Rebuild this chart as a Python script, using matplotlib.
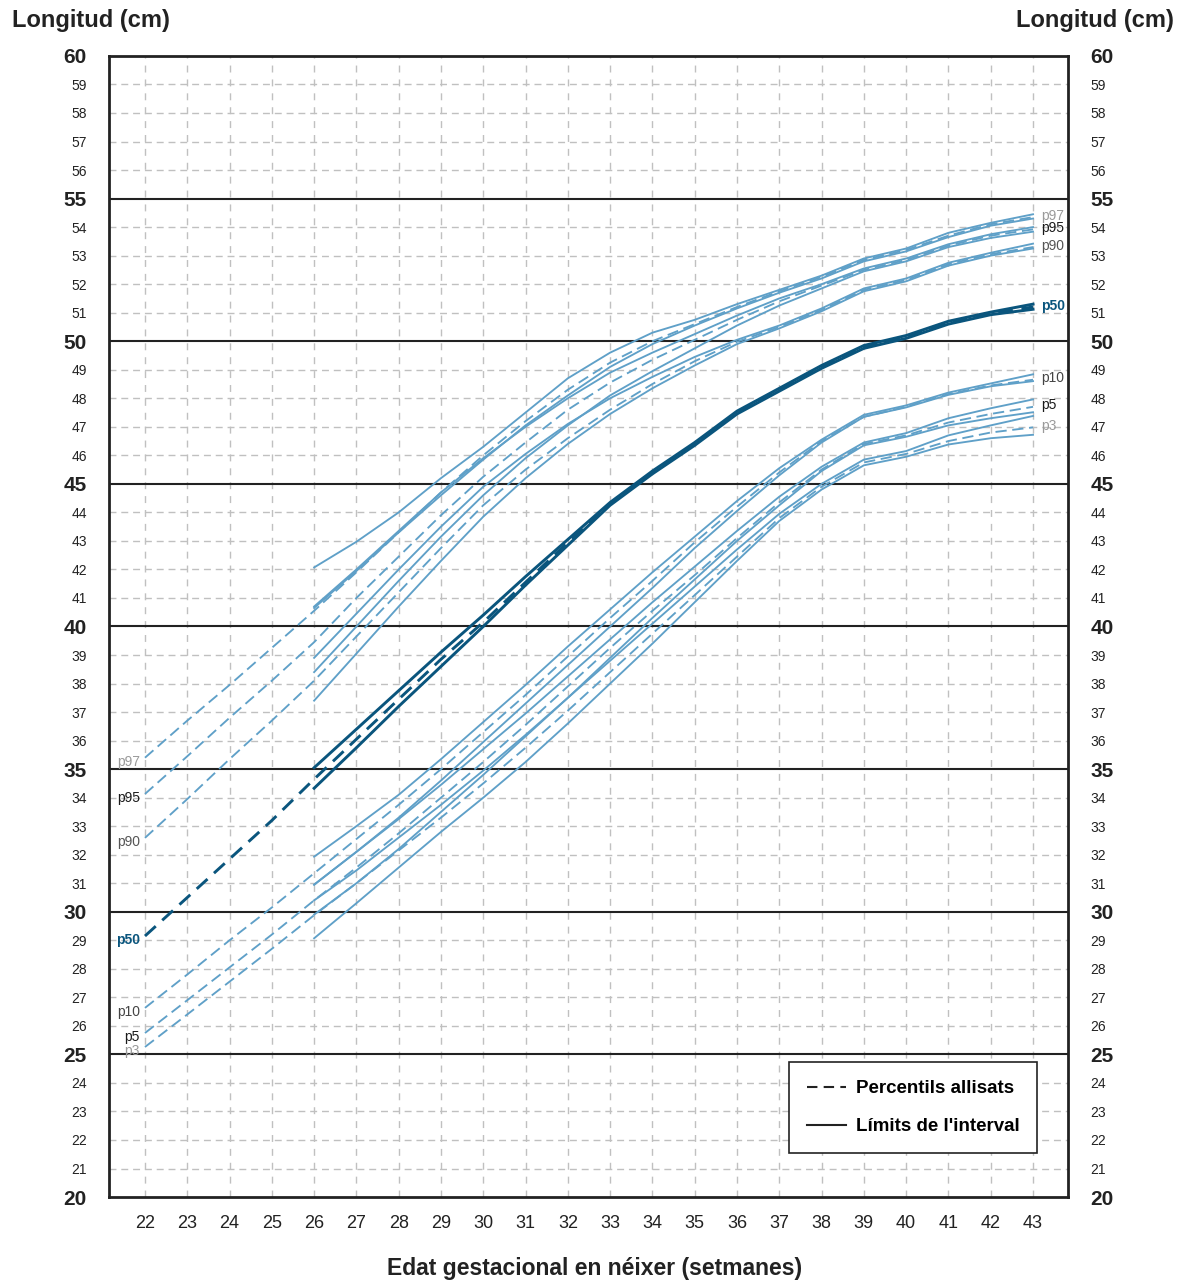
import matplotlib.pyplot as plt
from matplotlib.lines import Line2D

plt.rcParams['font.family'] = ['Liberation Sans', 'DejaVu Sans']

# gestational weeks
weeks = list(range(22, 44))      # smoothed percentiles
weeks_lim = list(range(26, 44))  # interval limits

# smoothed percentiles (dashed), cm
p97 = [35.4, 36.7, 37.95, 39.25, 40.55, 41.9, 43.3, 44.7, 46.0, 47.2, 48.3,
       49.25, 50.0, 50.6, 51.2, 51.75, 52.25, 52.85, 53.2, 53.7, 54.1, 54.35]
p95 = [34.13, 35.45, 36.8, 38.1, 39.45, 41.0, 42.45, 43.9, 45.25, 46.45, 47.6,
       48.55, 49.35, 50.05, 50.75, 51.4, 51.95, 52.5, 52.85, 53.35, 53.7, 53.92]
p90 = [32.59, 33.95, 35.35, 36.7, 38.1, 39.65, 41.2, 42.75, 44.25, 45.5, 46.6,
       47.6, 48.5, 49.3, 49.98, 50.5, 51.1, 51.8, 52.15, 52.7, 53.05, 53.3]
p50 = [29.15, 30.5, 31.85, 33.2, 34.65, 36.05, 37.45, 38.85, 40.15, 41.55, 42.95,
       44.3, 45.4, 46.4, 47.5, 48.3, 49.1, 49.8, 50.15, 50.65, 50.98, 51.2]
p10 = [26.63, 27.8, 29.0, 30.15, 31.35, 32.55, 33.75, 35.0, 36.3, 37.6, 38.95,
       40.3, 41.6, 42.95, 44.2, 45.4, 46.5, 47.35, 47.7, 48.15, 48.45, 48.65]
p5 = [25.75, 26.9, 28.05, 29.2, 30.4, 31.55, 32.75, 34.0, 35.25, 36.55, 37.9,
      39.25, 40.55, 41.8, 43.1, 44.35, 45.5, 46.4, 46.7, 47.15, 47.45, 47.7]
p3 = [25.26, 26.4, 27.55, 28.7, 29.88, 31.0, 32.15, 33.3, 34.5, 35.75, 37.05,
      38.4, 39.75, 41.1, 42.45, 43.8, 44.9, 45.75, 46.05, 46.5, 46.8, 46.98]

# interval limits (solid), cm
p97_hi = [42.07, 42.97, 44.0, 45.2, 46.3, 47.5, 48.7, 49.6, 50.3, 50.75, 51.3,
          51.8, 52.3, 52.9, 53.25, 53.8, 54.15, 54.45]
p97_lo = [40.65, 41.95, 43.3, 44.6, 45.85, 47.05, 48.1, 49.1, 49.9, 50.55, 51.15,
          51.7, 52.2, 52.8, 53.15, 53.65, 54.05, 54.3]
p95_hi = [40.7, 42.0, 43.35, 44.7, 45.9, 47.0, 48.0, 48.9, 49.6, 50.25, 50.9,
          51.5, 52.0, 52.55, 52.9, 53.4, 53.75, 54.0]
p95_lo = [38.4, 40.0, 41.6, 43.15, 44.6, 45.9, 47.05, 48.1, 48.95, 49.75, 50.55,
          51.25, 51.85, 52.45, 52.8, 53.3, 53.62, 53.84]
p90_hi = [38.9, 40.45, 42.0, 43.5, 44.9, 46.05, 47.1, 48.0, 48.75, 49.45, 50.05,
          50.55, 51.15, 51.85, 52.2, 52.75, 53.1, 53.42]
p90_lo = [37.4, 39.05, 40.7, 42.3, 43.85, 45.2, 46.4, 47.45, 48.35, 49.15, 49.9,
          50.45, 51.05, 51.75, 52.1, 52.65, 53.0, 53.25]
p50_hi = [35.05, 36.4, 37.75, 39.1, 40.4, 41.75, 43.05, 44.35, 45.45, 46.45, 47.55,
          48.35, 49.15, 49.85, 50.2, 50.7, 51.02, 51.3]
p50_lo = [34.33, 35.75, 37.2, 38.6, 40.0, 41.45, 42.85, 44.25, 45.35, 46.35, 47.45,
          48.25, 49.05, 49.75, 50.1, 50.6, 50.93, 51.12]
p10_hi = [31.93, 33.0, 34.1, 35.35, 36.65, 37.95, 39.3, 40.6, 41.9, 43.15, 44.4,
          45.55, 46.55, 47.42, 47.75, 48.2, 48.52, 48.84]
p10_lo = [30.95, 32.1, 33.3, 34.6, 35.95, 37.3, 38.65, 40.0, 41.35, 42.75, 44.05,
          45.3, 46.45, 47.35, 47.68, 48.12, 48.42, 48.6]
p5_hi = [30.95, 32.1, 33.25, 34.45, 35.7, 36.95, 38.25, 39.55, 40.85, 42.1, 43.35,
         44.55, 45.6, 46.45, 46.78, 47.3, 47.65, 47.96]
p5_lo = [29.9, 31.0, 32.2, 33.5, 34.8, 36.15, 37.5, 38.9, 40.3, 41.65, 43.0,
         44.25, 45.45, 46.35, 46.65, 47.05, 47.3, 47.51]
p3_hi = [30.4, 31.45, 32.6, 33.75, 34.95, 36.2, 37.5, 38.8, 40.1, 41.4, 42.7,
         43.95, 45.0, 45.85, 46.15, 46.7, 47.05, 47.38]
p3_lo = [29.07, 30.3, 31.55, 32.8, 34.0, 35.25, 36.6, 38.0, 39.4, 40.85, 42.3,
         43.7, 44.8, 45.65, 45.95, 46.38, 46.6, 46.72]

names = ['p97', 'p95', 'p90', 'p50', 'p10', 'p5', 'p3']
smooth = [p97, p95, p90, p50, p10, p5, p3]
upper = [p97_hi, p95_hi, p90_hi, p50_hi, p10_hi, p5_hi, p3_hi]
lower = [p97_lo, p95_lo, p90_lo, p50_lo, p10_lo, p5_lo, p3_lo]
label_colors = ['#9a9a9a', '#1a1a1a', '#555555', '#0a557d', '#444444', '#1a1a1a', '#9a9a9a']

light = '#5fa0c8'
dark = '#0a557d'

fig = plt.figure(figsize=(11.82, 12.83), dpi=100)
ax = fig.add_axes([0.0922, 0.0670, 0.8114, 0.8894])
ax.set_xlim(21.149, 43.828)
ax.set_ylim(20, 60)

# grid
for v in range(21, 60):
    if v % 5 == 0:
        ax.axhline(v, color='#222222', lw=1.5, zorder=1)
    else:
        ax.axhline(v, color='#c0c0c0', lw=1.0, dashes=(5, 3.5), zorder=0)
for w in weeks:
    ax.axvline(w, color='#c0c0c0', lw=1.0, dashes=(5, 5), zorder=0)

# curves
for name, s, hi, lo, lc in zip(names, smooth, upper, lower, label_colors):
    col = dark if name == 'p50' else light
    lw = 2.1 if name == 'p50' else 1.35
    dash = (5, 3) if name == 'p50' else (6, 3)
    ax.plot(weeks, s, color=col, lw=lw, dashes=dash, zorder=3)
    ax.plot(weeks_lim, hi, color=col, lw=lw, zorder=3)
    ax.plot(weeks_lim, lo, color=col, lw=lw, zorder=3)
    fw = 'bold' if name == 'p50' else 'normal'
    ax.text(21.88, s[0] - 0.15, name, ha='right', va='center', fontsize=10,
            color=lc, fontweight=fw, zorder=4)
    ax.text(43.2, s[-1] + 0.05, name, ha='left', va='center', fontsize=10,
            color=lc, fontweight=fw, zorder=4)

# ticks
ax.set_xticks(weeks)
ax.set_xticklabels([str(w) for w in weeks])
ax.tick_params(axis='x', length=0, pad=13, labelsize=13, labelcolor='#222222')
yt = list(range(20, 61))
ax.set_yticks(yt)
ax.set_yticklabels([str(v) for v in yt])
ax.tick_params(axis='y', length=0, pad=16, labelleft=True, labelright=True,
               labelcolor='#222222')
for t, v in zip(ax.yaxis.get_major_ticks(), yt):
    for lab in (t.label1, t.label2):
        if v % 5 == 0:
            lab.set_fontsize(15)
            lab.set_fontweight('bold')
        else:
            lab.set_fontsize(10)

for sp in ax.spines.values():
    sp.set_linewidth(2)
    sp.set_color('#222222')
    sp.set_zorder(5)

# legend
handles = [Line2D([], [], color='#222222', lw=1.5, dashes=(5, 3)),
           Line2D([], [], color='#222222', lw=1.5)]
leg = ax.legend(handles, ['Percentils allisats', "Límits de l'interval"],
                loc='lower right', bbox_to_anchor=(0.9677, 0.0386),
                fancybox=False, framealpha=1, edgecolor='#222222',
                prop={'weight': 'bold', 'size': 13.5}, handlelength=2.1,
                borderpad=0.95, labelspacing=1.1, handletextpad=0.5,
                borderaxespad=0)
leg.get_frame().set_linewidth(1.2)

fig.text(0.010, 0.984, 'Longitud (cm)', fontsize=17, fontweight='bold',
         ha='left', va='center', color='#222222')
fig.text(0.993, 0.984, 'Longitud (cm)', fontsize=17, fontweight='bold',
         ha='right', va='center', color='#222222')
fig.text(0.503, 0.011, 'Edat gestacional en néixer (setmanes)', fontsize=16.5,
         fontweight='bold', ha='center', va='center', color='#222222')

fig.savefig('out.png', dpi=100)
